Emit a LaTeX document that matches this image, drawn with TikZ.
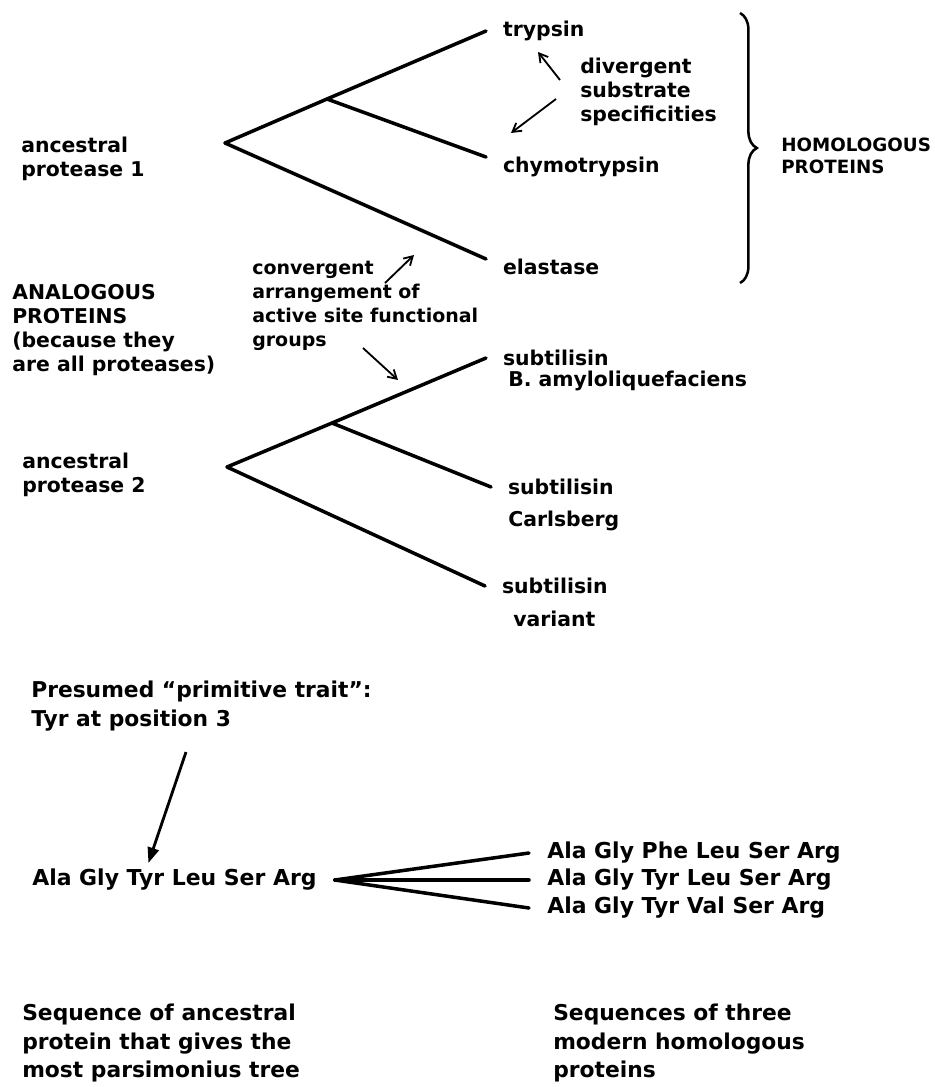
\documentclass[tikz,border=0pt]{standalone}
\usepackage{fontspec}
\setmainfont{DejaVu Sans}
\usetikzlibrary{positioning,arrows.meta,decorations.pathreplacing}

\begin{document}
\begin{tikzpicture} [
      x=0.025cm, y=-0.025cm,
      txt/.style={anchor=west, align=left, inner sep=0pt,
        font=\bfseries\fontsize{14.5}{17}\selectfont},
      caps/.style={txt, font=\bfseries\fontsize{13}{16}\selectfont},
      leaf/.style={txt, inner xsep=0.42cm},
      big/.style={anchor=west, align=left, inner sep=0pt,
        font=\bfseries\fontsize{15.5}{20}\selectfont},
      seq/.style={anchor=west, inner sep=0pt, inner xsep=0.45cm,
        font=\bfseries\fontsize{15.6}{18}\selectfont},
      branch/.style={line width=2.5pt, line cap=round, line join=round},
      note/.style={-{Straight Barb[length=6pt,width=7pt]}, line width=1.3pt},
      pointer/.style={-{Triangle[length=11pt,width=8pt]}, line width=2pt}
   ]
    \useasboundingbox (0,0) rectangle (935,1087);

    % first tree
    \coordinate (r1) at (225,143);
    \coordinate (b1) at (327,99);
    \node[txt] (anc1) at (21,159) {ancestral\\protease 1};
    \node[leaf] (tryp) at (486,31) {trypsin};
    \node[leaf, anchor=north west] (chymo) at (486,157) {chymotrypsin};
    \node[leaf, anchor=north west] (elast) at (486,259) {elastase};
    \draw[branch] (tryp.west) -- (b1) -- (r1) -- (elast.north west);
    \draw[branch] (b1) -- (chymo.north west);

    \node[txt] (diverg) at (580,92) {divergent\\substrate\\specificities};
    \coordinate (d1s) at (560,80);
    \coordinate (d1e) at (538,52);
    \coordinate (d2s) at (556,99);
    \coordinate (d2e) at (511,133);
    \draw[note] (d1s) -- (d1e);
    \draw[note] (d2s) -- (d2e);

    \coordinate (brTop) at (740,13);
    \coordinate (brBot) at (740,283);
    \draw[line width=1.8pt, decorate, decoration={brace, amplitude=0.42cm}]
      (brTop) -- (brBot);
    \node[caps] (homol) at (781,156) {HOMOLOGOUS\\PROTEINS};

    % analogous / convergent labels
    \node[txt] (analog) at (12,330) {ANALOGOUS\\PROTEINS\\(because they\\are all proteases)};
    \node[txt, font=\bfseries\fontsize{13.5}{17}\selectfont] (converg) at (252,306)
      {convergent\\arrangement of\\active site functional\\groups};
    \coordinate (c1s) at (385,283);
    \coordinate (c1e) at (414,255);
    \coordinate (c2s) at (363,348);
    \coordinate (c2e) at (398,380);
    \draw[note] (c1s) -- (c1e);
    \draw[note] (c2s) -- (c2e);

    % second tree
    \coordinate (r2) at (227,467);
    \coordinate (b2) at (332,423);
    \node[txt] (anc2) at (22,475) {ancestral\\protease 2};
    \node[leaf] (sub1) at (486,358) {subtilisin};
    \node[txt] (sub1b) at (508,381) {B. amyloliquefaciens};
    \node[leaf] (sub2) at (491,487) {subtilisin};
    \node[txt] (sub2b) at (508,521) {Carlsberg};
    \node[leaf] (sub3) at (485,586) {subtilisin};
    \node[txt] (sub3b) at (513,619) {variant};
    \draw[branch] (sub1.west) -- (b2) -- (r2) -- (sub3.west);
    \draw[branch] (b2) -- (sub2.west);

    % sequences
    \node[big] (trait) at (31,706) {Presumed “primitive trait”:\\Tyr at position 3};
    \node[seq] (ancseq) at (14,880) {Ala Gly Tyr Leu Ser Arg};
    \coordinate (tr) at (186,752);
    \draw[pointer] (tr) -- ([xshift=-0.65cm, yshift=0.15cm]ancseq.north);

    \node[seq] (m1) at (529,853) {Ala Gly Phe Leu Ser Arg};
    \node[seq] (m2) at (529,880) {Ala Gly Tyr Leu Ser Arg};
    \node[seq] (m3) at (529,908) {Ala Gly Tyr Val Ser Arg};
    \draw[branch] (ancseq.east) -- (m1.west);
    \draw[branch] (ancseq.east) -- (m2.west);
    \draw[branch] (ancseq.east) -- (m3.west);

    \node[big] (ancdesc) at (22,1043) {Sequence of ancestral\\protein that gives the\\most parsimonius tree};
    \node[big] (moddesc) at (553,1043) {Sequences of three\\modern homologous\\proteins};

  \end{tikzpicture}
\end{document}
